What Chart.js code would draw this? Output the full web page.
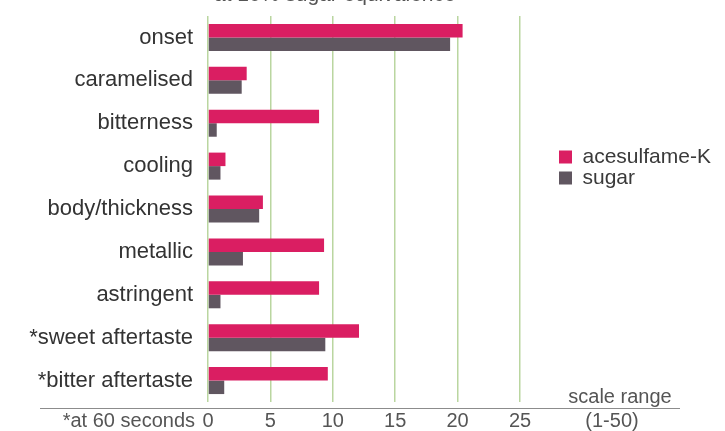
<!DOCTYPE html>
<html>
<head>
<meta charset="utf-8">
<script src="https://cdn.jsdelivr.net/npm/chart.js@4.4.0/dist/chart.umd.min.js"></script>
<style>
  html, body { margin: 0; padding: 0; background: #fff; }
</style>
</head>
<body>
<canvas id="tasteChart" width="725" height="431"></canvas>
<script>
const attributes = ["onset", "caramelised", "bitterness", "cooling", "body/thickness", "metallic", "astringent", "*sweet aftertaste", "*bitter aftertaste"];
const acesulfameK = [20.4, 3.1, 8.9, 1.4, 4.4, 9.3, 8.9, 12.1, 9.6];
const sugar = [19.4, 2.7, 0.7, 1.0, 4.1, 2.8, 1.0, 9.4, 1.3];
const seriesNames = ["acesulfame-K", "sugar"];

const PINK = "rgb(218, 30, 98)";
const GREY = "rgb(96, 86, 96)";
const GRID_GREEN = "rgb(186, 214, 160)";
const FONT = "'Liberation Sans', Arial, sans-serif";

// extra bits: clipped heading, baseline rule, footnotes, legend placement
const extras = {
  id: "extras",
  afterLayout(chart) {
    const lg = chart.legend;
    lg.left = 559;
    lg.top = 146.5;
    lg.width = 166;
    lg.right = lg.left + lg.width;
    lg.height = 100;
    lg.bottom = lg.top + lg.height;
  },
  afterDraw(chart) {
    const ctx = chart.ctx;
    ctx.save();
    ctx.strokeStyle = "#8c8c8c";
    ctx.lineWidth = 1;
    ctx.beginPath();
    ctx.moveTo(40, 408.5);
    ctx.lineTo(680, 408.5);
    ctx.stroke();

    ctx.fillStyle = "#555";
    ctx.font = "20px " + FONT;
    ctx.textBaseline = "middle";
    ctx.textAlign = "right";
    ctx.fillText("*at 60 seconds", 195, 421);
    ctx.textAlign = "center";
    ctx.fillText("scale range", 620, 397);
    ctx.fillText("(1-50)", 612, 421);

    // heading is cut off by the top edge in the original
    ctx.textAlign = "left";
    ctx.textBaseline = "alphabetic";
    ctx.font = "21px " + FONT;
    ctx.fillText("at 10% sugar equivalence", 214, 1);
    ctx.restore();
  }
};

new Chart(document.getElementById("tasteChart"), {
  type: "bar",
  data: {
    labels: attributes,
    datasets: [
      { label: seriesNames[0], data: acesulfameK, backgroundColor: PINK, borderWidth: 0 },
      { label: seriesNames[1], data: sugar, backgroundColor: GREY, borderWidth: 0 },
    ],
  },
  options: {
    indexAxis: "y",
    responsive: false,
    animation: false,
    devicePixelRatio: 1,
    layout: { padding: { top: 16, right: 205, bottom: 0, left: 0 } },
    datasets: { bar: { categoryPercentage: 0.63, barPercentage: 1 } },
    scales: {
      x: {
        min: 0,
        max: 25,
        afterFit: (scale) => { scale.height = 29; },
        border: { display: false },
        grid: { color: GRID_GREEN, lineWidth: 1.5, drawTicks: false },
        ticks: { stepSize: 5, padding: 7, color: "#555", font: { family: FONT, size: 20 } },
      },
      y: {
        afterFit: (scale) => {
          scale.width = 208;
          scale.paddingTop = 0;
          scale.paddingBottom = 0;
        },
        border: { display: false },
        grid: { display: false, drawTicks: false },
        ticks: { padding: 15, color: "#333", font: { family: FONT, size: 22 } },
      },
    },
    plugins: {
      legend: {
        position: "chartArea",
        align: "start",
        labels: {
          boxWidth: 13,
          boxHeight: 13,
          padding: 0,
          color: "#3a3a3a",
          font: { family: FONT, size: 21 },
        },
      },
      tooltip: { enabled: false },
    },
  },
  plugins: [extras],
});
</script>
</body>
</html>
